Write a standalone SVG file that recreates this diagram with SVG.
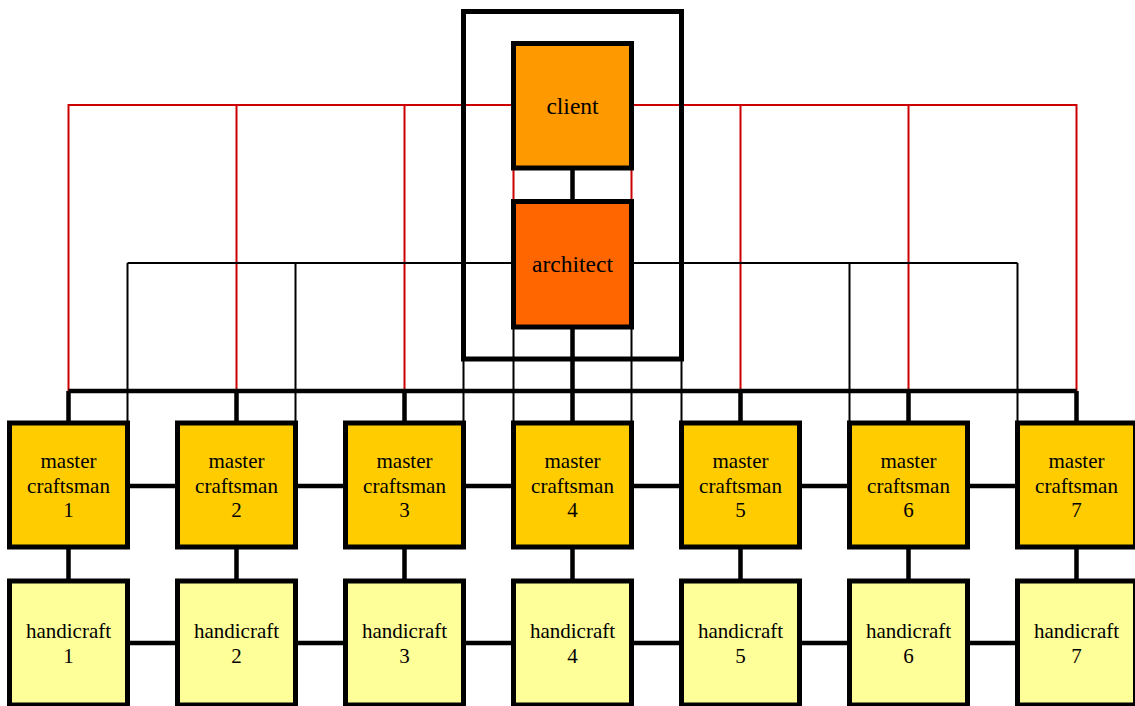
<svg xmlns="http://www.w3.org/2000/svg" width="1135" height="706" viewBox="0 0 1135 706">
<style>
.box{stroke:#000;stroke-width:5}
.red{stroke:#CC0000;stroke-width:2;fill:none}
.thin{stroke:#000;stroke-width:2;fill:none}
.thick{stroke:#000;stroke-width:4.5;fill:none}
.big{font-size:23.5px}
.sm{font-size:21px}
</style>
<rect width="1135" height="706" fill="#fff"/>
<g id="connectors">
<path class="red" d="M68.5,391V105H1076.5V391M236.5,105V391M404.5,105V391M740.5,105V391M908.5,105V391M513.5,168V201.5M631.5,168V201.5"/>
<path class="thin" d="M127.5,263H1017.5M127.5,263V423M295.5,263V423M463.5,263V423M513.5,263V423M631.5,263V423M681.5,263V423M849.5,263V423M1017.5,263V423"/>
<path class="thick" d="M572.5,168V201.5M572.5,327V391M68.5,391H1076.5M68.5,391V423M236.5,391V423M404.5,391V423M572.5,391V423M740.5,391V423M908.5,391V423M1076.5,391V423M127.5,486H1017.5M127.5,643H1017.5M68.5,547V581M236.5,547V581M404.5,547V581M572.5,547V581M740.5,547V581M908.5,547V581M1076.5,547V581"/>
</g>
<g font-family="'Liberation Serif', 'Times New Roman', serif" text-anchor="middle" fill="#000">
<g id="outer"><rect class="box" x="463.5" y="11.5" width="218" height="347.5" fill="none"/></g>
<g id="client"><rect class="box" x="513.5" y="43.5" width="118" height="124.5" fill="#FF9900"/><text class="big" x="572.5" y="114">client</text></g>
<g id="architect"><rect class="box" x="513.5" y="201.5" width="118" height="125.5" fill="#FF6600"/><text class="big" x="572.5" y="272">architect</text></g>
<g id="mc1"><rect class="box" x="9.5" y="423" width="118" height="124" fill="#FFCC00"/><text class="sm" x="68.5" y="467.5">master</text><text class="sm" x="68.5" y="492.5">craftsman</text><text class="sm" x="68.5" y="517">1</text></g>
<g id="mc2"><rect class="box" x="177.5" y="423" width="118" height="124" fill="#FFCC00"/><text class="sm" x="236.5" y="467.5">master</text><text class="sm" x="236.5" y="492.5">craftsman</text><text class="sm" x="236.5" y="517">2</text></g>
<g id="mc3"><rect class="box" x="345.5" y="423" width="118" height="124" fill="#FFCC00"/><text class="sm" x="404.5" y="467.5">master</text><text class="sm" x="404.5" y="492.5">craftsman</text><text class="sm" x="404.5" y="517">3</text></g>
<g id="mc4"><rect class="box" x="513.5" y="423" width="118" height="124" fill="#FFCC00"/><text class="sm" x="572.5" y="467.5">master</text><text class="sm" x="572.5" y="492.5">craftsman</text><text class="sm" x="572.5" y="517">4</text></g>
<g id="mc5"><rect class="box" x="681.5" y="423" width="118" height="124" fill="#FFCC00"/><text class="sm" x="740.5" y="467.5">master</text><text class="sm" x="740.5" y="492.5">craftsman</text><text class="sm" x="740.5" y="517">5</text></g>
<g id="mc6"><rect class="box" x="849.5" y="423" width="118" height="124" fill="#FFCC00"/><text class="sm" x="908.5" y="467.5">master</text><text class="sm" x="908.5" y="492.5">craftsman</text><text class="sm" x="908.5" y="517">6</text></g>
<g id="mc7"><rect class="box" x="1017.5" y="423" width="118" height="124" fill="#FFCC00"/><text class="sm" x="1076.5" y="467.5">master</text><text class="sm" x="1076.5" y="492.5">craftsman</text><text class="sm" x="1076.5" y="517">7</text></g>
<g id="hc1"><rect class="box" x="9.5" y="581" width="118" height="124" fill="#FFFF99"/><text class="sm" x="68.5" y="638">handicraft</text><text class="sm" x="68.5" y="662.5">1</text></g>
<g id="hc2"><rect class="box" x="177.5" y="581" width="118" height="124" fill="#FFFF99"/><text class="sm" x="236.5" y="638">handicraft</text><text class="sm" x="236.5" y="662.5">2</text></g>
<g id="hc3"><rect class="box" x="345.5" y="581" width="118" height="124" fill="#FFFF99"/><text class="sm" x="404.5" y="638">handicraft</text><text class="sm" x="404.5" y="662.5">3</text></g>
<g id="hc4"><rect class="box" x="513.5" y="581" width="118" height="124" fill="#FFFF99"/><text class="sm" x="572.5" y="638">handicraft</text><text class="sm" x="572.5" y="662.5">4</text></g>
<g id="hc5"><rect class="box" x="681.5" y="581" width="118" height="124" fill="#FFFF99"/><text class="sm" x="740.5" y="638">handicraft</text><text class="sm" x="740.5" y="662.5">5</text></g>
<g id="hc6"><rect class="box" x="849.5" y="581" width="118" height="124" fill="#FFFF99"/><text class="sm" x="908.5" y="638">handicraft</text><text class="sm" x="908.5" y="662.5">6</text></g>
<g id="hc7"><rect class="box" x="1017.5" y="581" width="118" height="124" fill="#FFFF99"/><text class="sm" x="1076.5" y="638">handicraft</text><text class="sm" x="1076.5" y="662.5">7</text></g>
</g>
</svg>
